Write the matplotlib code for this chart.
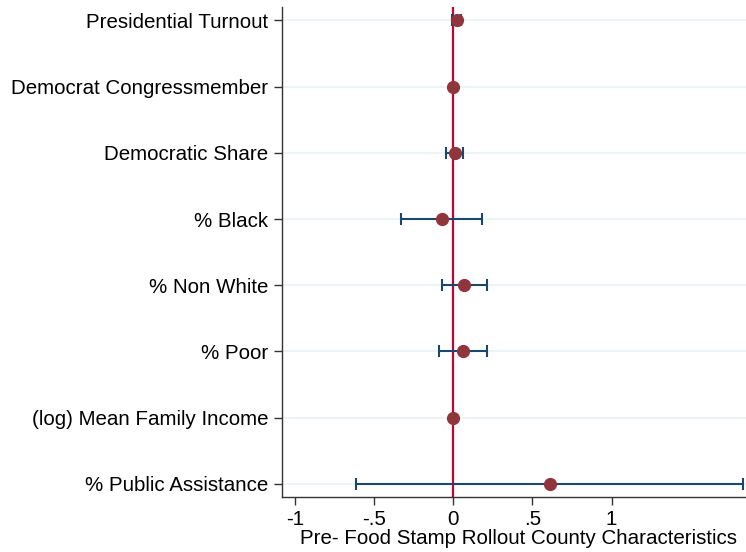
import matplotlib.pyplot as plt

labels = ["Presidential Turnout", "Democrat Congressmember", "Democratic Share",
          "% Black", "% Non White", "% Poor", "(log) Mean Family Income",
          "% Public Assistance"]
coef = [0.021, 0.0, 0.011, -0.073, 0.068, 0.059, 0.0, 0.611]
ci_low = [-0.008, -0.004, -0.046, -0.33, -0.073, -0.092, -0.004, -0.615]
ci_high = [0.05, 0.004, 0.059, 0.183, 0.213, 0.213, 0.004, 1.83]
xticks = [-1, -0.5, 0, 0.5, 1]
xticklabels = ["-1", "-.5", "0", ".5", "1"]

plt.rcParams['font.family'] = ['Liberation Sans', 'DejaVu Sans']

fig = plt.figure(figsize=(7.46, 5.52), dpi=100)
ax = fig.add_axes([0.378, 0.0996, 0.622, 0.8874])

ypos = list(range(len(labels)))

for y in ypos:
    ax.axhline(y, color="#eaf2f3", linewidth=1.2, zorder=0)

ax.axvline(0, color="#c10534", linewidth=1.6, zorder=1)

err_lo = [c - l for c, l in zip(coef, ci_low)]
err_hi = [h - c for c, h in zip(coef, ci_high)]
ax.errorbar(coef, ypos, xerr=[err_lo, err_hi], fmt="none",
            ecolor="#1a476f", elinewidth=1.5, capsize=4, capthick=1.5, zorder=2)
ax.plot(coef, ypos, "o", color="#90353b", markersize=8.5, zorder=3)

ax.set_xlim(-1.082, 1.849)
ax.set_ylim(7.2, -0.2)
ax.set_yticks(ypos)
ax.set_yticklabels(labels, fontsize=14.8)
ax.set_xticks(xticks)
ax.set_xticklabels(xticklabels, fontsize=14.8)
ax.set_xlabel("Pre- Food Stamp Rollout County Characteristics", fontsize=14.8, labelpad=0)
ax.xaxis.set_label_coords(0.51, -0.066)

ax.spines["top"].set_visible(False)
ax.spines["right"].set_visible(False)
for s in ["left", "bottom"]:
    ax.spines[s].set_color("#333333")
    ax.spines[s].set_linewidth(1.0)
ax.tick_params(axis="y", length=6, width=1, color="#333333", pad=4)
ax.tick_params(axis="x", length=6, width=1, color="#333333", pad=3.5)

fig.savefig("out.png", dpi=100)
